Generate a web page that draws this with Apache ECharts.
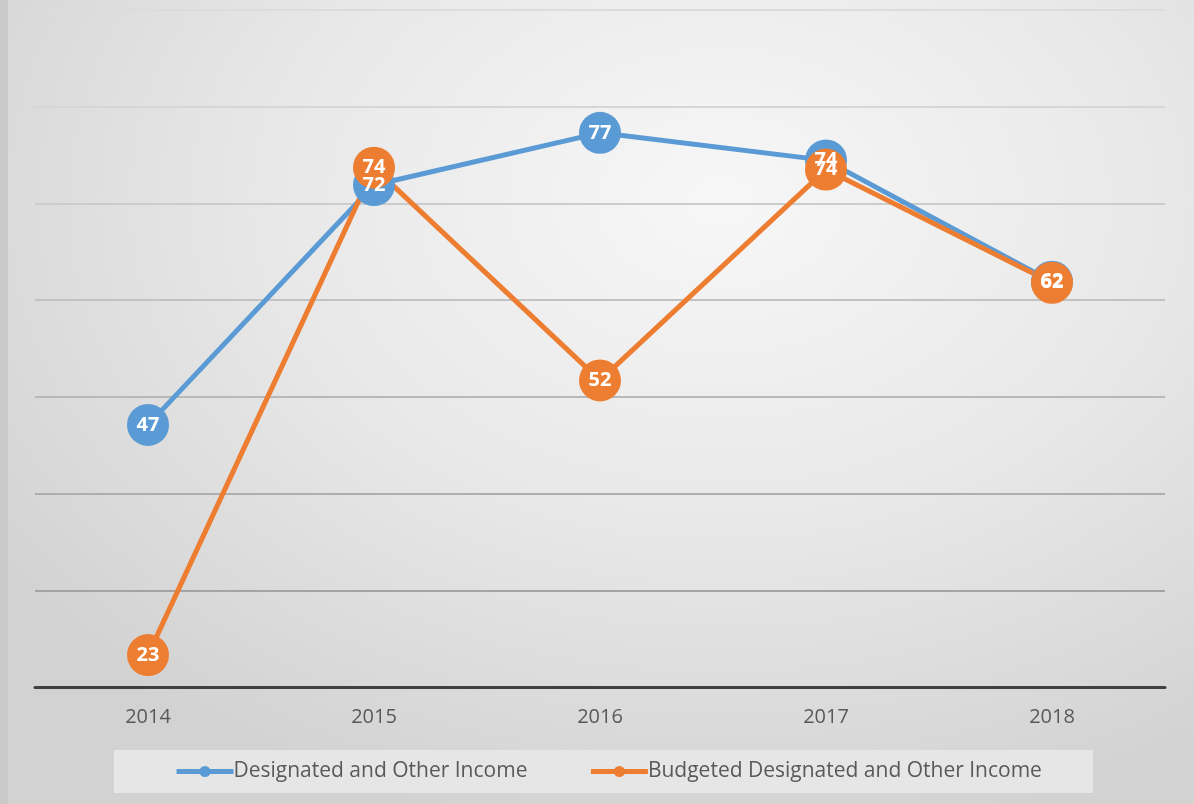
<!DOCTYPE html>
<html>
<head>
<meta charset="utf-8">
<script src="https://cdn.jsdelivr.net/npm/echarts@6/dist/echarts.min.js"></script>
<style>
  html, body { margin: 0; padding: 0; }
  #chart {
    width: 1194px; height: 804px;
    background: radial-gradient(ellipse 75% 80% at 60% 25%, #f7f7f7 0%, #e8e8e8 50%, #d2d2d2 100%);
    border-left: 8px solid #c9c9c9;
    box-sizing: border-box;
  }
</style>
</head>
<body>
<div id="chart"></div>
<script>
// categories and values
const years = ['2014', '2015', '2016', '2017', '2018']
const designated = [47.1, 71.9, 77.3, 74.45, 61.9]
const budgeted = [23.3, 73.7, 51.7, 73.5, 61.8]
// grid line colours, bottom to top (lighter towards the top)
const gridColors = ['#9a9a9a', '#a4a4a4', '#aeaeae', '#b8b8b8', '#c2c2c2', '#cccccc', '#d6d6d6', '#dcdcdc']

const myChart = echarts.init(document.getElementById('chart'))

function lineSeries(name, data, color) {
  return {
    name: name,
    type: 'line',
    data: data,
    symbol: 'circle',
    symbolSize: 42,
    lineStyle: { width: 5, color: color },
    itemStyle: { color: color },
    label: {
      show: true,
      position: 'inside',
      color: '#fff',
      fontSize: 20,
      fontWeight: 'bold',
      fontFamily: 'Open Sans',
      formatter: (p) => Math.round(p.value),
    },
    emphasis: { disabled: true },
  }
}

const option = {
  animation: false,
  backgroundColor: 'transparent',
  grid: { left: 27, right: 29, top: 10, bottom: 117 },
  xAxis: {
    type: 'category',
    data: years,
    axisLine: { lineStyle: { color: '#404040', width: 3 } },
    axisTick: { show: false },
    axisLabel: { color: '#595959', fontSize: 20, fontFamily: 'Open Sans', margin: 20 },
  },
  yAxis: {
    type: 'value',
    min: 20,
    max: 90,
    interval: 10,
    axisLabel: { show: false },
    axisLine: { show: false },
    splitLine: { lineStyle: { color: gridColors, width: 2 } },
  },
  legend: {
    left: 106,
    top: 750,
    backgroundColor: '#e6e6e6',
    padding: [11, 51, 11, 60],
    itemGap: 61,
    itemWidth: 57,
    itemHeight: 14,
    lineStyle: { width: 5 },
    textStyle: { color: '#595959', fontSize: 21, fontFamily: 'Open Sans', padding: [0, 0, 0, -5] },
    data: ['Designated and Other Income', 'Budgeted Designated and Other Income'],
  },
  series: [
    lineSeries('Designated and Other Income', designated, '#5b9bd5'),
    lineSeries('Budgeted Designated and Other Income', budgeted, '#ed7d31'),
  ],
}
myChart.setOption(option)
</script>
</body>
</html>
